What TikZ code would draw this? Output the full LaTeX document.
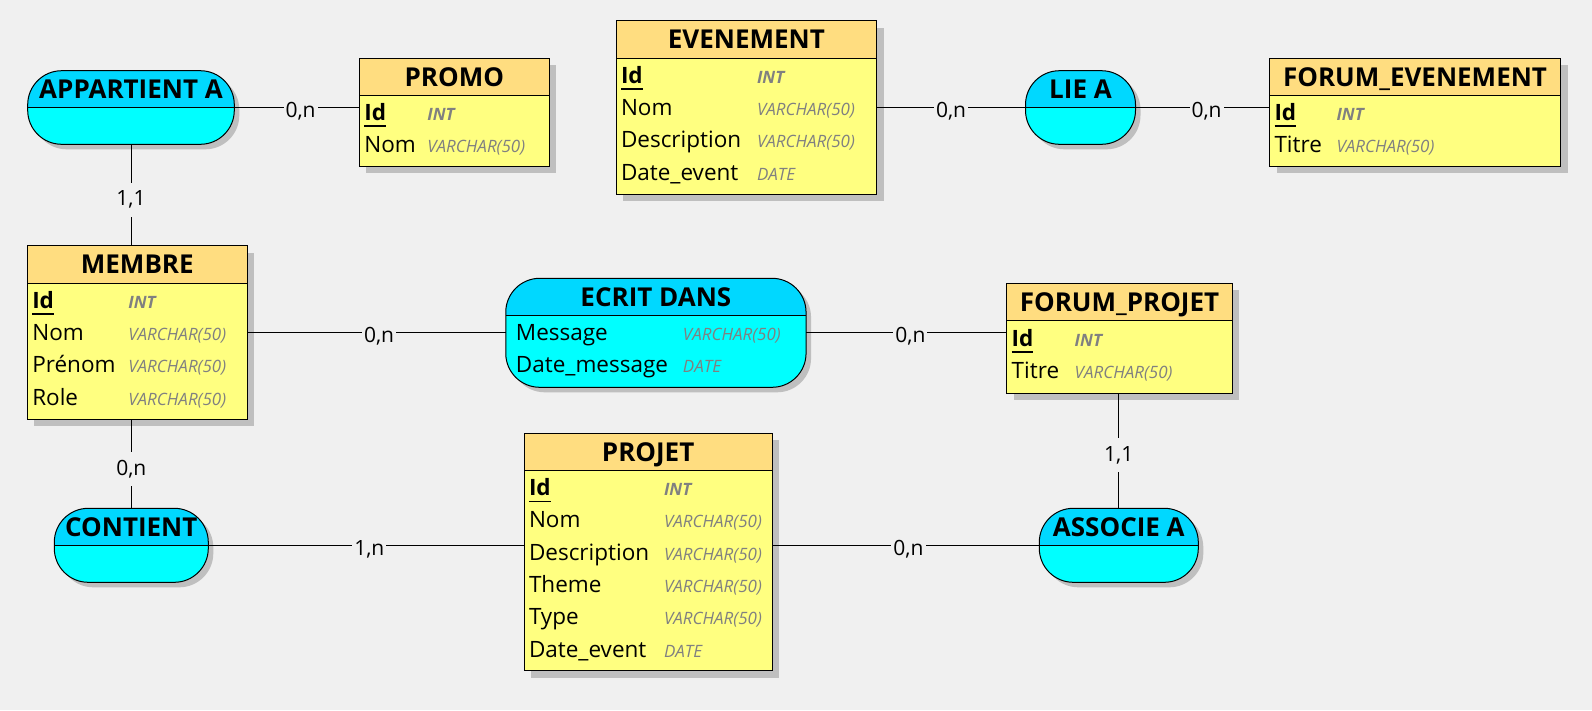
\documentclass[tikz,border=0pt]{standalone}
\usepackage{fontspec}
\setmainfont{Open Sans}
\usepackage{tikz}
\usetikzlibrary{shadows,positioning}

\definecolor{bg}{HTML}{F0F0F0}
\definecolor{headfill}{HTML}{FFDD80}
\definecolor{bodyfill}{HTML}{FFFF80}
\definecolor{assoctop}{HTML}{00D8FF}
\definecolor{assocbot}{HTML}{00FFFF}
\definecolor{shadowgray}{HTML}{BFBFBF}
\definecolor{typegray}{HTML}{808080}

\newcommand{\ty}[1]{{\color{typegray}\fontsize{17}{17}\selectfont\itshape #1}}
\newcommand{\tyb}[1]{{\color{typegray}\fontsize{17}{17}\selectfont\bfseries\itshape #1}}
\newcommand{\pk}[1]{\setbox0=\hbox{\bfseries #1}\rlap{\rule[-6.6pt]{\wd0}{1.6pt}}\box0}
\newcommand{\attrow}[3]{\rule[-6pt]{0pt}{22pt}\makebox[#1][l]{#2}#3}

\begin{document}
\begin{tikzpicture}[x=1pt,y=-1pt]
\tikzstyle{ehead}=[draw, line width=1pt, fill=headfill, outer sep=0pt, inner ysep=2pt, anchor=north west, font=\fontsize{26}{30}\selectfont\bfseries, text height=18.6pt, text depth=0pt, drop shadow={shadow xshift=7pt, shadow yshift=-7pt, fill=shadowgray, opacity=1}]
\tikzstyle{ebody}=[draw, line width=1pt, fill=bodyfill, outer sep=0pt, inner xsep=5pt, inner ysep=2pt, align=left, font=\fontsize{22.5}{32.3}\selectfont, drop shadow={shadow xshift=7pt, shadow yshift=-7pt, fill=shadowgray, opacity=1}]
\tikzstyle{assoc}=[draw, line width=1pt, fill=assocbot, outer sep=0pt, rounded corners=34pt, drop shadow={shadow xshift=5pt, shadow yshift=-5pt, fill=shadowgray, opacity=1}, path picture={\fill[assoctop, sharp corners] (path picture bounding box.north west) rectangle ([yshift=-37pt]path picture bounding box.north east); \draw[line width=1pt, sharp corners] ([yshift=-37pt]path picture bounding box.north west) -- ([yshift=-37pt]path picture bounding box.north east);}]
\tikzstyle{atitle}=[inner sep=0pt, font=\fontsize{26}{30}\selectfont\bfseries, text height=18.6pt, text depth=0pt]
\tikzstyle{abody}=[inner sep=0pt, anchor=west, align=left, font=\fontsize{22.5}{32.3}\selectfont]
\tikzstyle{card}=[fill=bg, inner xsep=2pt, inner ysep=8pt, font=\fontsize{21}{21}\selectfont, text height=15pt, text depth=3pt]
\tikzstyle{hcard}=[card, anchor=base, yshift=-10pt]
\tikzstyle{link}=[line width=1pt]

\fill[bg] (0,0) rectangle (1592,710);
\useasboundingbox (0,0) rectangle (1592,710);

\node[ehead, minimum width=190pt, minimum height=37pt] (promo) at (359.3,58.3) {PROMO};
\node[ebody, text width=180pt, minimum height=71pt, below=0pt of promo] (promo-b)
 {\attrow{63pt}{\pk{Id}}{\tyb{INT}}\\
  \attrow{63pt}{Nom}{\ty{VARCHAR(50)}}};

\node[ehead, minimum width=260.7pt, minimum height=37.6pt] (evenement) at (616,20.7) {EVENEMENT};
\node[ebody, text width=250.7pt, minimum height=135.7pt, below=0pt of evenement] (evenement-b)
 {\attrow{136pt}{\pk{Id}}{\tyb{INT}}\\
  \attrow{136pt}{Nom}{\ty{VARCHAR(50)}}\\
  \attrow{136pt}{Description}{\ty{VARCHAR(50)}}\\
  \attrow{136pt}{Date\_event}{\ty{DATE}}};

\node[ehead, minimum width=291pt, minimum height=37pt] (fevent) at (1269.5,58.3) {FORUM\_EVENEMENT};
\node[ebody, text width=281pt, minimum height=71pt, below=0pt of fevent] (fevent-b)
 {\attrow{62pt}{\pk{Id}}{\tyb{INT}}\\
  \attrow{62pt}{Titre}{\ty{VARCHAR(50)}}};

\node[ehead, minimum width=220pt, minimum height=37.8pt] (membre) at (27.3,245.5) {MEMBRE};
\node[ebody, text width=210pt, minimum height=135.7pt, below=0pt of membre] (membre-b)
 {\attrow{96pt}{\pk{Id}}{\tyb{INT}}\\
  \attrow{96pt}{Nom}{\ty{VARCHAR(50)}}\\
  \attrow{96pt}{Prénom}{\ty{VARCHAR(50)}}\\
  \attrow{96pt}{Role}{\ty{VARCHAR(50)}}};

\node[ehead, minimum width=225.6pt, minimum height=37pt] (fprojet) at (1006.7,283.3) {FORUM\_PROJET};
\node[ebody, text width=215.6pt, minimum height=73pt, below=0pt of fprojet] (fprojet-b)
 {\attrow{63pt}{\pk{Id}}{\tyb{INT}}\\
  \attrow{63pt}{Titre}{\ty{VARCHAR(50)}}};

\node[ehead, minimum width=248.3pt, minimum height=37.4pt] (projet) at (524,433.3) {PROJET};
\node[ebody, text width=238.3pt, minimum height=200pt, below=0pt of projet] (projet-b)
 {\attrow{135pt}{\pk{Id}}{\tyb{INT}}\\
  \attrow{135pt}{Nom}{\ty{VARCHAR(50)}}\\
  \attrow{135pt}{Description}{\ty{VARCHAR(50)}}\\
  \attrow{135pt}{Theme}{\ty{VARCHAR(50)}}\\
  \attrow{135pt}{Type}{\ty{VARCHAR(50)}}\\
  \attrow{135pt}{Date\_event}{\ty{DATE}}};

\node[assoc, minimum width=206.6pt, minimum height=73.6pt] (appartient) at (131,107.5) {};
\node[atitle] (appartient-t) at ([yshift=-18.5pt]appartient.north) {APPARTIENT A};

\node[assoc, minimum width=110pt, minimum height=73.6pt] (lie) at (1080.5,107.5) {};
\node[atitle] (lie-t) at ([yshift=-18.5pt]lie.north) {LIE A};

\node[assoc, minimum width=300.3pt, minimum height=109pt] (ecrit) at (655.9,332.8) {};
\node[atitle] (ecrit-t) at ([yshift=-18.5pt]ecrit.north) {ECRIT DANS};
\node[abody] (ecrit-b) at ([xshift=10pt,yshift=-18.5pt]ecrit.west)
 {\attrow{167pt}{Message}{\ty{VARCHAR(50)}}\\
  \attrow{167pt}{Date\_message}{\ty{DATE}}};

\node[assoc, minimum width=154pt, minimum height=74pt] (contient) at (131.3,545.3) {};
\node[atitle] (contient-t) at ([yshift=-18.5pt]contient.north) {CONTIENT};

\node[assoc, minimum width=159pt, minimum height=74pt] (associe) at (1118.8,545.3) {};
\node[atitle] (associe-t) at ([yshift=-18.5pt]associe.north) {ASSOCIE A};

\draw[link] (appartient.east) -- (appartient.east -| promo-b.west) node[hcard, pos=.53] {0,n};
\draw[link] (lie.west -| evenement-b.east) -- (lie.west) node[hcard, pos=.5] {0,n};
\draw[link] (lie.east) -- (lie.east -| fevent-b.west) node[hcard, pos=.53] {0,n};
\draw[link] (appartient.south) -- (appartient.south |- membre.north) node[card, pos=.55] {1,1};
\draw[link] (ecrit.west -| membre-b.east) -- (ecrit.west) node[hcard, pos=.51] {0,n};
\draw[link] (ecrit.east) -- (ecrit.east -| fprojet-b.west) node[hcard, pos=.52] {0,n};
\draw[link] (contient.north |- membre-b.south) -- (contient.north) node[card, pos=.56] {0,n};
\draw[link] (contient.east) -- (contient.east -| projet-b.west) node[hcard, pos=.51] {1,n};
\draw[link] (associe.west -| projet-b.east) -- (associe.west) node[hcard, pos=.51] {0,n};
\draw[link] (associe.north |- fprojet-b.south) -- (associe.north) node[card, pos=.54] {1,1};
\end{tikzpicture}
\end{document}
